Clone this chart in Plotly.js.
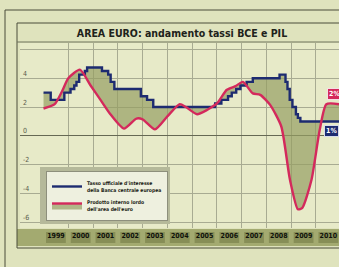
<!DOCTYPE html>
<html><head><meta charset="utf-8">
<script src="https://cdn.plot.ly/plotly-3.0.1.min.js"></script>
<style>html,body{margin:0;padding:0;background:#dfe3bd;}#c{width:339px;height:267px;}</style>
</head><body><div id="c"></div>
<script>
// ECB official rate (blue), step dates in decimal years
const bceX = [1999.0,1999.29,1999.84,2000.09,2000.24,2000.33,2000.44,2000.67,2000.76,2001.36,2001.61,2001.71,2001.86,2002.93,2003.18,2003.43,2005.93,2006.18,2006.45,2006.6,2006.78,2006.95,2007.2,2007.45,2008.53,2008.77,2008.85,2008.94,2009.05,2009.19,2009.27,2009.37,2010.93];
const bceY = [3.0,2.5,3.0,3.25,3.5,3.75,4.25,4.5,4.75,4.5,4.25,3.75,3.25,2.75,2.5,2.0,2.25,2.5,2.75,3.0,3.25,3.5,3.75,4.0,4.25,3.75,3.25,2.5,2.0,1.5,1.25,1.0,1.0];
// Euro-area GDP growth (red)
const pilX = [1999.0,1999.45,1999.75,2000.0,2000.47,2000.9,2001.3,2001.7,2002.25,2002.75,2003.0,2003.5,2004.0,2004.5,2004.75,2005.2,2005.6,2006.0,2006.4,2006.75,2007.05,2007.45,2007.75,2008.15,2008.6,2008.95,2009.27,2009.45,2009.82,2010.15,2010.42,2010.93];
const pilY = [1.9,2.2,3.1,4.0,4.6,3.5,2.5,1.5,0.5,1.2,1.15,0.45,1.35,2.2,2.0,1.5,1.8,2.25,3.2,3.45,3.75,2.95,2.85,2.15,0.65,-3.05,-5.1,-5.0,-3.05,0.4,2.2,2.2];
const years = [1999,2000,2001,2002,2003,2004,2005,2006,2007,2008,2009,2010];
const yearLabels = years.map(String);
const gridYears = [2000,2001,2002,2003,2004,2005,2006,2007,2008,2009,2010];
const yTicks = [-6,-4,-2,0,2,4,6];
const yTickText = ['-6','-4','-2','0','2','4','6'];
const seriesNames = ["<b>Tasso ufficiale d'interesse<br>della Banca centrale europea</b>","<b>Prodotto interno lordo<br>dell'area dell'euro</b>"];
const endLabels = ['2%','1%'];

const px2x = p => (p-20)/319, py2y = p => (228-p)/185;
const L = '#4a4c3a';
const shapes = [
  {type:'rect',layer:'below',xref:'paper',yref:'paper',x0:px2x(17),x1:1.02,y0:py2y(246),y1:py2y(229),fillcolor:'#a3aa70',line:{width:0}},
  {type:'line',xref:'paper',yref:'paper',x0:px2x(5),x1:1.02,y0:py2y(10),y1:py2y(10),line:{color:L,width:1}},
  {type:'line',xref:'paper',yref:'paper',x0:px2x(5),x1:px2x(5),y0:py2y(10),y1:py2y(267),line:{color:L,width:1}},
  {type:'rect',xref:'paper',yref:'paper',x0:px2x(17),x1:1.02,y0:py2y(248),y1:py2y(23),line:{color:L,width:1}},
  {type:'line',xref:'paper',yref:'paper',x0:px2x(17),x1:1.02,y0:py2y(42),y1:py2y(42),line:{color:'#6d705a',width:1}},
  {type:'rect',xref:'paper',yref:'paper',layer:'above',x0:px2x(40),x1:px2x(170),y0:py2y(224),y1:py2y(167),fillcolor:'#b5b99a',line:{width:0}}
];
years.forEach(y=>shapes.push({type:'rect',layer:'below',xref:'x',yref:'paper',x0:y+0.1,x1:y+0.9,y0:py2y(243),y1:py2y(232),fillcolor:'#878e57',line:{width:0}}));

const traces = [
  {x:bceX,y:bceY,mode:'lines',line:{shape:'hv',color:'#1d2b70',width:2.4},name:seriesNames[0]},
  {x:pilX,y:pilY,mode:'lines',line:{shape:'spline',smoothing:0.6,color:'#d4295c',width:2.4},fill:'tonexty',fillcolor:'rgba(150,158,98,0.7)',name:seriesNames[1]}
];
const layout = {
  width:339,height:267,margin:{l:20,r:0,t:43,b:39},
  paper_bgcolor:'#dfe3bd',plot_bgcolor:'#e7eac8',
  font:{family:'DejaVu Sans Condensed, sans-serif'},
  title:{text:'<b>AREA EURO: andamento tassi BCE e PIL</b>',font:{size:10.5,color:'#20221a',family:'DejaVu Sans Condensed'},x:px2x(182),xref:'paper',xanchor:'center',y:1-33/267,yanchor:'middle'},
  xaxis:{range:[1998.05,2010.93],tickmode:'array',tickvals:years.map(y=>y+0.5),ticktext:yearLabels,showgrid:false,zeroline:false,ticks:'',
    tickfont:{size:7,color:'#0f110a',family:'DejaVu Sans Condensed',weight:'bold'},ticklabelstandoff:2,
    minor:{tickmode:'array',tickvals:gridYears,showgrid:true,gridcolor:'#a8ab92',gridwidth:1,ticks:''}},
  yaxis:{range:[-6.4,6.45],tickmode:'array',tickvals:yTicks,ticktext:yTickText,ticklabelposition:'inside top',showgrid:true,gridcolor:'#a8ab92',gridwidth:1,
    zeroline:true,zerolinecolor:'#666954',zerolinewidth:1.2,ticks:'',tickfont:{size:7,color:'#5a5c4c'}},
  showlegend:true,
  legend:{x:px2x(46),y:py2y(171),xanchor:'left',yanchor:'top',traceorder:'normal',bgcolor:'#eef0df',bordercolor:'#8d8f7c',borderwidth:1,
    font:{size:5,color:'#1b1c14',family:'DejaVu Sans Condensed'},tracegroupgap:3,itemwidth:30},
  annotations:[
    {x:pilX[pilX.length-2],y:pilY[pilY.length-1],xref:'x',yref:'y',xanchor:'left',yanchor:'bottom',yshift:4,xshift:1,text:'<b>'+endLabels[0]+'</b>',showarrow:false,bgcolor:'#d4295c',bordercolor:'#f4dfe4',borderwidth:1,font:{size:7,color:'#ffffff'}},
    {x:pilX[pilX.length-2],y:bceY[bceY.length-1],xref:'x',yref:'y',xanchor:'left',yanchor:'top',yshift:-4,xshift:-2,text:'<b>'+endLabels[1]+'</b>',showarrow:false,bgcolor:'#1d2b70',bordercolor:'#d8dcea',borderwidth:1,font:{size:7,color:'#ffffff'}}
  ],
  shapes:shapes
};
Plotly.newPlot('c',traces,layout,{staticPlot:true,displayModeBar:false});
</script></body></html>
